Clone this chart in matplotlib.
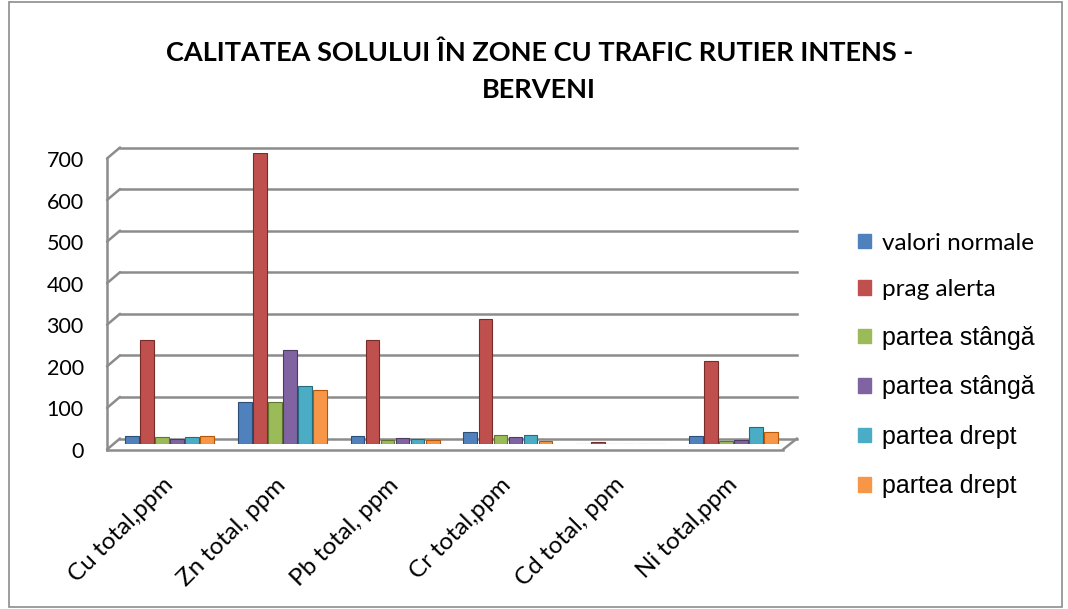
import numpy as np
import matplotlib

matplotlib.use('Agg')
from matplotlib import pyplot as plt
from matplotlib.patches import Rectangle
from matplotlib.lines import Line2D
from matplotlib.transforms import offset_copy, ScaledTranslation

categories = ['Cu total,ppm', 'Zn total, ppm', 'Pb total, ppm', 'Cr total,ppm', 'Cd total, ppm', 'Ni total,ppm']
series_names = ['valori normale', 'prag alerta', 'partea stângă', 'partea stângă', 'partea drept', 'partea drept']
valori_normale = [20, 100, 20, 30, 1, 20]
prag_alerta = [250, 700, 250, 300, 5, 200]
stanga_1 = [18, 100, 10, 22, 1, 8]
stanga_2 = [12, 225, 14, 16, 1, 10]
drept_1 = [18, 140, 12, 22, 1, 40]
drept_2 = [20, 130, 10, 8, 1, 30]
y_ticks = [0, 100, 200, 300, 400, 500, 600, 700]

series = [valori_normale, prag_alerta, stanga_1, stanga_2, drept_1, drept_2]
colors = ['#4F81BD', '#C0504D', '#9BBB59', '#8064A2', '#4BACC6', '#F79646']
edges = ['#2C4D75', '#772C2A', '#5F7530', '#4D3B62', '#276A7C', '#B65708']
GRID = '#8C8C8C'

plt.rcParams['font.family'] = ['Lato', 'DejaVu Sans']

fig = plt.figure(figsize=(10.68, 6.09), dpi=100)
fig.patches.append(Rectangle((0.008, 0.003), 0.986, 0.994, transform=fig.transFigure,
                             fill=False, edgecolor=GRID, linewidth=1.2))

ax = fig.add_axes([113 / 1068, 1 - 444 / 609, 677 / 1068, 291 / 609])
x = np.arange(len(categories))
bw = 0.133
for i, vals in enumerate(series):
    ax.bar(x + (i - 2.5) * bw, vals, width=bw * 0.92, color=colors[i],
           edgecolor=edges[i], linewidth=0.8, zorder=3)

ax.set_xlim(-0.5, len(categories) - 0.5)
ax.set_ylim(0, 700)
ax.set_yticks(y_ticks)
ax.set_yticklabels([str(t) for t in y_ticks], fontsize=15.5)
ax.tick_params(axis='y', length=0, pad=21)
ax.tick_params(axis='x', length=0, pad=27)
ax.set_xticks(x)
ax.set_xticklabels(categories, rotation=45, ha='right', va='center',
                   rotation_mode='anchor', fontsize=17.5)
down = ScaledTranslation(0, -0.06, fig.dpi_scale_trans)
for lbl in ax.get_yticklabels():
    lbl.set_transform(lbl.get_transform() + down)

# 3D-look wall and floor: back lines shifted up, front lines shifted down
yax = ax.get_yaxis_transform()
back = offset_copy(yax, fig=fig, x=0, y=5.5, units='dots')
front = offset_copy(yax, fig=fig, x=0, y=-5.5, units='dots')
x_back0, x_back1 = 7 / 677, 1 + 7 / 677
x_front0, x_front1 = -6 / 677, 1 - 7 / 677
for t in y_ticks:
    ax.add_line(Line2D([x_back0, x_back1], [t, t], transform=back, color=GRID,
                       linewidth=1.8, zorder=1, clip_on=False))
    ax.annotate('', xy=(x_back0, t), xycoords=back, xytext=(x_front0, t), textcoords=front,
                arrowprops=dict(arrowstyle='-', color=GRID, linewidth=1.8, shrinkA=0, shrinkB=0))
ax.add_line(Line2D([x_front0, x_front0], [0, 700], transform=front, color=GRID,
                   linewidth=1.8, clip_on=False))
ax.add_line(Line2D([x_front0, x_front1], [0, 0], transform=front, color=GRID,
                   linewidth=1.8, clip_on=False))
ax.annotate('', xy=(x_back1, 0), xycoords=back, xytext=(x_front1, 0), textcoords=front,
            arrowprops=dict(arrowstyle='-', color=GRID, linewidth=1.8, shrinkA=0, shrinkB=0))
for s in ax.spines.values():
    s.set_visible(False)

fig.text(0.505, 0.883, 'CALITATEA SOLULUI ÎN ZONE CU TRAFIC RUTIER INTENS -\nBERVENI',
         ha='center', va='center', fontsize=19.5, fontweight='bold', linespacing=1.66)

handles = [Rectangle((0, 0), 1, 1, color=c) for c in colors]
leg = fig.legend(handles, series_names, loc='upper left', bbox_to_anchor=(858 / 1068, 0.618),
                 frameon=False, fontsize=17.5, labelspacing=1.05, handlelength=0.55,
                 handleheight=0.55, handletextpad=0.45, borderpad=0, borderaxespad=0)
for j, txt in enumerate(leg.get_texts()):
    if j >= 2:
        txt.set_family(['Liberation Sans', 'DejaVu Sans'])
        txt.set_fontsize(18)

fig.savefig('out.png', dpi=100)
